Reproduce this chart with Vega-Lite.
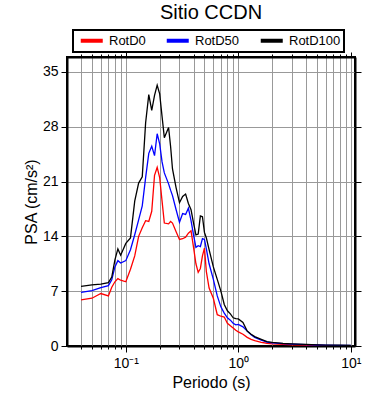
{
  "$schema": "https://vega.github.io/schema/vega-lite/v6.json",
  "width": 288,
  "height": 289,
  "autosize": "none",
  "padding": {"left": 67, "top": 57, "right": 35, "bottom": 54},
  "background": "white",
  "title": {"text": "Sitio CCDN", "fontSize": 20, "font": "Liberation Sans", "fontWeight": "normal", "anchor": "middle", "frame": "group", "offset": -10, "baseline": "alphabetic", "color": "black"},
  "config": {
    "view": {"stroke": "black", "strokeWidth": 2},
    "font": "Liberation Sans",
    "axis": {"labelFont": "Liberation Sans", "titleFont": "Liberation Sans", "labelColor": "black", "titleColor": "black", "tickColor": "black", "domainColor": "black", "domainWidth": 2, "gridColor": "#999999", "gridWidth": 1, "gridOpacity": 1, "titleFontWeight": "normal"},
    "legend": {"strokeWidth": 2}
  },
  "data": {"values": [
    {"T": 0.04, "RotD0": 5.88, "RotD50": 6.86, "RotD100": 7.6},
    {"T": 0.05, "RotD0": 6.1, "RotD50": 7.07, "RotD100": 7.8},
    {"T": 0.06, "RotD0": 6.7, "RotD50": 7.45, "RotD100": 7.9},
    {"T": 0.07, "RotD0": 6.4, "RotD50": 7.7, "RotD100": 8.1},
    {"T": 0.075, "RotD0": 7.5, "RotD50": 8.45, "RotD100": 8.8},
    {"T": 0.08, "RotD0": 8.2, "RotD50": 10.1, "RotD100": 11.0},
    {"T": 0.085, "RotD0": 8.6, "RotD50": 10.9, "RotD100": 12.4},
    {"T": 0.09, "RotD0": 8.4, "RotD50": 10.6, "RotD100": 11.6},
    {"T": 0.1, "RotD0": 8.2, "RotD50": 10.9, "RotD100": 13.1},
    {"T": 0.11, "RotD0": 9.8, "RotD50": 12.3, "RotD100": 13.8},
    {"T": 0.12, "RotD0": 11.5, "RotD50": 14.2, "RotD100": 18.5},
    {"T": 0.13, "RotD0": 14.0, "RotD50": 16.1, "RotD100": 20.8},
    {"T": 0.14, "RotD0": 15.1, "RotD50": 17.9, "RotD100": 21.6},
    {"T": 0.15, "RotD0": 16.0, "RotD50": 21.5, "RotD100": 28.5},
    {"T": 0.16, "RotD0": 15.9, "RotD50": 24.6, "RotD100": 32.1},
    {"T": 0.17, "RotD0": 17.2, "RotD50": 25.5, "RotD100": 30.1},
    {"T": 0.18, "RotD0": 21.8, "RotD50": 24.3, "RotD100": 32.0},
    {"T": 0.19, "RotD0": 22.8, "RotD50": 27.1, "RotD100": 33.3},
    {"T": 0.2, "RotD0": 21.5, "RotD50": 25.8, "RotD100": 32.2},
    {"T": 0.21, "RotD0": 18.5, "RotD50": 23.5, "RotD100": 29.3},
    {"T": 0.22, "RotD0": 15.7, "RotD50": 22.1, "RotD100": 26.6},
    {"T": 0.24, "RotD0": 15.6, "RotD50": 20.7, "RotD100": 27.9},
    {"T": 0.25, "RotD0": 15.9, "RotD50": 19.9, "RotD100": 25.5},
    {"T": 0.26, "RotD0": 15.7, "RotD50": 19.2, "RotD100": 22.6},
    {"T": 0.28, "RotD0": 14.6, "RotD50": 17.4, "RotD100": 20.2},
    {"T": 0.3, "RotD0": 13.6, "RotD50": 15.8, "RotD100": 18.3},
    {"T": 0.32, "RotD0": 13.7, "RotD50": 16.9, "RotD100": 19.1},
    {"T": 0.34, "RotD0": 13.9, "RotD50": 16.8, "RotD100": 19.4},
    {"T": 0.36, "RotD0": 14.4, "RotD50": 17.6, "RotD100": 18.2},
    {"T": 0.38, "RotD0": 14.7, "RotD50": 16.0, "RotD100": 17.4},
    {"T": 0.4, "RotD0": 12.6, "RotD50": 14.2, "RotD100": 15.7},
    {"T": 0.42, "RotD0": 10.5, "RotD50": 12.6, "RotD100": 14.2},
    {"T": 0.44, "RotD0": 9.4, "RotD50": 12.8, "RotD100": 14.3},
    {"T": 0.46, "RotD0": 9.9, "RotD50": 12.7, "RotD100": 16.6},
    {"T": 0.48, "RotD0": 11.5, "RotD50": 13.7, "RotD100": 16.5},
    {"T": 0.5, "RotD0": 12.5, "RotD50": 13.6, "RotD100": 14.5},
    {"T": 0.52, "RotD0": 9.5, "RotD50": 12.4, "RotD100": 13.8},
    {"T": 0.55, "RotD0": 7.4, "RotD50": 10.5, "RotD100": 12.3},
    {"T": 0.6, "RotD0": 6.1, "RotD50": 8.5, "RotD100": 10.1},
    {"T": 0.65, "RotD0": 4.0, "RotD50": 6.4, "RotD100": 8.5},
    {"T": 0.7, "RotD0": 3.8, "RotD50": 5.0, "RotD100": 7.0},
    {"T": 0.75, "RotD0": 3.7, "RotD50": 4.2, "RotD100": 5.3},
    {"T": 0.8, "RotD0": 2.9, "RotD50": 3.6, "RotD100": 4.5},
    {"T": 0.85, "RotD0": 2.6, "RotD50": 3.3, "RotD100": 4.1},
    {"T": 0.9, "RotD0": 2.3, "RotD50": 2.9, "RotD100": 3.6},
    {"T": 0.95, "RotD0": 2.0, "RotD50": 2.7, "RotD100": 3.5},
    {"T": 1.0, "RotD0": 1.8, "RotD50": 2.75, "RotD100": 3.45},
    {"T": 1.1, "RotD0": 1.5, "RotD50": 2.45, "RotD100": 3.0},
    {"T": 1.2, "RotD0": 1.1, "RotD50": 1.9, "RotD100": 1.9},
    {"T": 1.3, "RotD0": 0.85, "RotD50": 1.45, "RotD100": 1.5},
    {"T": 1.4, "RotD0": 0.7, "RotD50": 1.1, "RotD100": 1.2},
    {"T": 1.6, "RotD0": 0.45, "RotD50": 0.75, "RotD100": 0.85},
    {"T": 1.8, "RotD0": 0.35, "RotD50": 0.5, "RotD100": 0.55},
    {"T": 2.0, "RotD0": 0.28, "RotD50": 0.4, "RotD100": 0.45},
    {"T": 2.5, "RotD0": 0.2, "RotD50": 0.3, "RotD100": 0.34},
    {"T": 3, "RotD0": 0.15, "RotD50": 0.24, "RotD100": 0.28},
    {"T": 4, "RotD0": 0.1, "RotD50": 0.17, "RotD100": 0.2},
    {"T": 5, "RotD0": 0.08, "RotD50": 0.13, "RotD100": 0.15},
    {"T": 6, "RotD0": 0.06, "RotD50": 0.1, "RotD100": 0.12},
    {"T": 8, "RotD0": 0.05, "RotD50": 0.08, "RotD100": 0.1},
    {"T": 10, "RotD0": 0.04, "RotD50": 0.07, "RotD100": 0.08}
  ]},
  "transform": [{"fold": ["RotD0", "RotD50", "RotD100"], "as": ["serie", "psa"]}],
  "layer": [
    {
      "mark": {"type": "line", "strokeWidth": 1.3, "clip": true},
      "encoding": {
        "x": {"field": "T", "type": "quantitative",
          "scale": {"type": "log", "domain": [0.03, 10.9], "nice": false},
          "axis": {"orient": "bottom", "values": [0.04,0.05,0.06,0.07,0.08,0.09,0.1,0.2,0.3,0.4,0.5,0.6,0.7,0.8,0.9,1,2,3,4,5,6,7,8,9,10],
            "grid": true, "labelExpr": "datum.value == 0.1 ? '10⁻¹' : datum.value == 1 ? '10⁰' : datum.value == 10 ? '10¹' : ''",
            "tickSize": {"condition": {"test": "datum.value == 0.1 || datum.value == 1 || datum.value == 10", "value": 6}, "value": 3},
            "labelFontSize": 14, "labelPadding": 4, "labelFlush": false, "labelOverlap": false,
            "title": "Periodo (s)", "titleFontSize": 16, "titlePadding": 4}},
        "y": {"field": "psa", "type": "quantitative",
          "scale": {"domain": [0, 36.9], "nice": false, "zero": true},
          "axis": {"orient": "left", "values": [0, 7, 14, 21, 28, 35], "grid": true, "tickSize": 6,
            "labelFontSize": 14, "labelPadding": 3, "title": "PSA (cm/s²)", "titleFontSize": 16, "titlePadding": 3}},
        "color": {"field": "serie", "type": "nominal",
          "scale": {"domain": ["RotD0", "RotD50", "RotD100"], "range": ["#ff0000", "#0000ff", "#000000"]},
          "legend": {"orient": "none", "legendX": 6, "legendY": -27, "direction": "horizontal", "title": null,
            "symbolType": "M-0.5,0H3.5", "symbolSize": 121, "symbolStrokeWidth": 4,
            "labelFontSize": 13, "labelFont": "Liberation Sans", "labelColor": "black", "labelOffset": 18, "columnPadding": 12,
            "padding": 3, "strokeColor": "black", "fillColor": "white"}}
      }
    },
    {
      "mark": {"type": "line", "opacity": 0},
      "encoding": {
        "x": {"field": "T", "type": "quantitative",
          "axis": {"orient": "top", "values": [0.04,0.05,0.06,0.07,0.08,0.09,0.1,0.2,0.3,0.4,0.5,0.6,0.7,0.8,0.9,1,2,3,4,5,6,7,8,9,10],
            "grid": false, "labels": false, "title": null,
            "tickSize": {"condition": {"test": "datum.value == 0.1 || datum.value == 1 || datum.value == 10", "value": 5}, "value": 3}}},
        "y": {"field": "psa", "type": "quantitative",
          "axis": {"orient": "right", "values": [0, 7, 14, 21, 28, 35], "grid": false, "labels": false, "title": null, "tickSize": 6}},
        "detail": {"field": "serie"}
      }
    }
  ]
}
